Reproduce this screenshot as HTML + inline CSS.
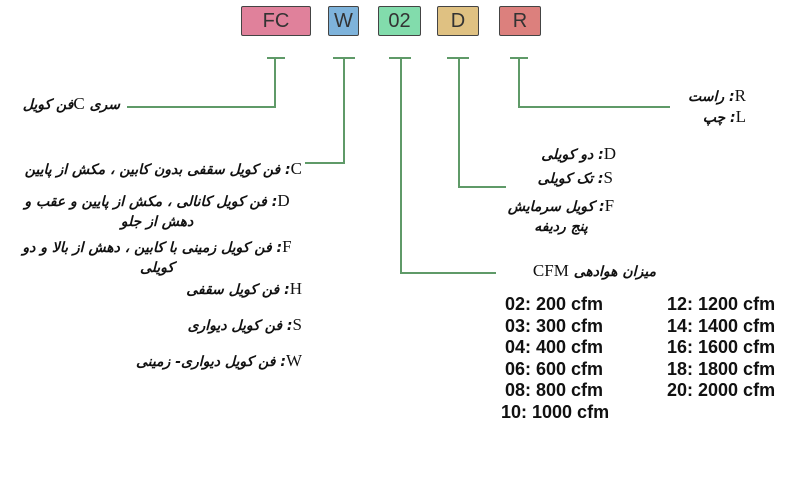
<!DOCTYPE html>
<html><head><meta charset="utf-8"><style>
body{margin:0;width:800px;height:500px;background:#fff;position:relative;overflow:hidden;font-family:"DejaVu Sans",sans-serif}
.b{position:absolute;top:6px;height:30px;border:1.5px solid #444;border-radius:2px;box-sizing:border-box;font:20px "Liberation Sans",sans-serif;color:#333;text-align:center;line-height:28px}
.l{position:absolute;background:#5f9a68}
.t{position:absolute;direction:rtl;font-weight:bold;font-style:italic;font-size:14px;color:#111;white-space:nowrap;line-height:20px}
.t b{font:17px "Liberation Serif",serif;font-style:normal}
.w{white-space:normal;text-align:center}
.c{position:absolute;font:bold 18px "Liberation Sans",sans-serif;color:#111;line-height:21.6px}
</style></head><body>
<div class="b" style="left:241px;width:70px;background:#e0819b">FC</div>
<div class="b" style="left:328px;width:31px;background:#7eb3db">W</div>
<div class="b" style="left:378px;width:43px;background:#82dcac">02</div>
<div class="b" style="left:437px;width:42px;background:#dfc182">D</div>
<div class="b" style="left:499px;width:42px;background:#dc807d">R</div>

<div class="l" style="left:267px;top:57px;width:18px;height:2px"></div>
<div class="l" style="left:274px;top:57px;width:2px;height:51px"></div>
<div class="l" style="left:127px;top:106px;width:149px;height:2px"></div>

<div class="l" style="left:333px;top:57px;width:22px;height:2px"></div>
<div class="l" style="left:343px;top:57px;width:2px;height:107px"></div>
<div class="l" style="left:305px;top:162px;width:40px;height:2px"></div>

<div class="l" style="left:389px;top:57px;width:22px;height:2px"></div>
<div class="l" style="left:400px;top:57px;width:2px;height:217px"></div>
<div class="l" style="left:400px;top:272px;width:96px;height:2px"></div>

<div class="l" style="left:447px;top:57px;width:22px;height:2px"></div>
<div class="l" style="left:458px;top:57px;width:2px;height:131px"></div>
<div class="l" style="left:458px;top:186px;width:48px;height:2px"></div>

<div class="l" style="left:510px;top:57px;width:18px;height:2px"></div>
<div class="l" style="left:518px;top:57px;width:2px;height:51px"></div>
<div class="l" style="left:518px;top:106px;width:152px;height:2px"></div>

<div class="t" style="right:680px;top:94px">سری <b>C</b>فن کویل</div>
<div class="t" style="right:498px;top:159px"><b>C</b>: فن کویل سقفی بدون کابین ، مکش از پایین</div>
<div class="t w" style="right:498px;top:191px;width:290px"><b>D</b>: فن کویل کانالی ، مکش از پایین و عقب و دهش از جلو</div>
<div class="t w" style="right:498px;top:237px;width:290px"><b>F</b>: فن کویل زمینی با کابین ، دهش از بالا و دو کویلی</div>
<div class="t" style="right:498px;top:279px"><b>H</b>: فن کویل سقفی</div>
<div class="t" style="right:498px;top:315px"><b>S</b>: فن کویل دیواری</div>
<div class="t" style="right:498px;top:351px"><b>W</b>: فن کویل دیواری- زمینی</div>

<div class="t" style="right:54px;top:86px"><b>R</b>: راست</div>
<div class="t" style="right:54px;top:107px"><b>L</b>: چپ</div>
<div class="t" style="right:184px;top:144px"><b>D</b>: دو کویلی</div>
<div class="t" style="right:187px;top:168px"><b>S</b>: تک کویلی</div>
<div class="t w" style="right:183px;top:196px;width:112px"><b>F</b>: کویل سرمایش پنج ردیفه</div>
<div class="t" style="right:144px;top:261px">میزان هوادهی <b>CFM</b></div>

<div class="c" style="left:505px;top:294px">02: 200 cfm<br>03: 300 cfm<br>04: 400 cfm<br>06: 600 cfm<br>08: 800 cfm</div>
<div class="c" style="left:501px;top:402px">10: 1000 cfm</div>
<div class="c" style="left:667px;top:294px">12: 1200 cfm<br>14: 1400 cfm<br>16: 1600 cfm<br>18: 1800 cfm<br>20: 2000 cfm</div>
</body></html>
